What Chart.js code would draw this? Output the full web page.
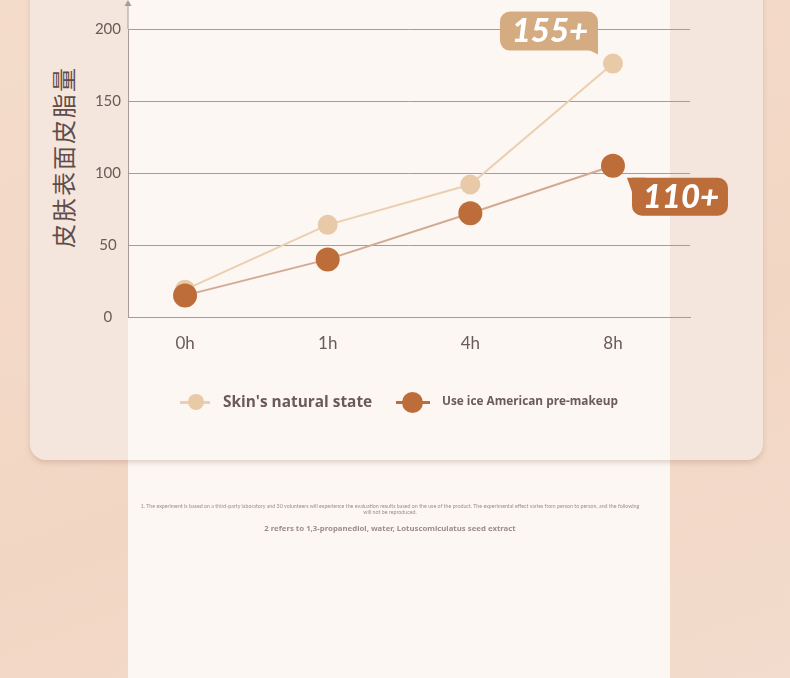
<!DOCTYPE html>
<html lang="zh-CN">
<head>
  <meta charset="UTF-8" />
  <title>皮肤表面皮脂量</title>
  <script src="https://cdn.jsdelivr.net/npm/chart.js"></script>
  <style>
    html, body { margin: 0; padding: 0; }
    body {
      width: 790px; height: 678px; overflow: hidden; position: relative;
      background: linear-gradient(160deg, #f4dccb 0%, #f2d6c4 60%, #f3dccd 100%);
      font-family: Lato, 'Noto Sans', sans-serif;
    }
    .col-bottom {
      position: absolute; left: 128px; top: 440px; width: 542px; height: 238px;
      background: #fcf7f2;
    }
    .card {
      position: absolute; left: 30px; top: -20px; width: 733px; height: 480px;
      background: #f5e6dd; border-radius: 0 0 16px 16px;
      box-shadow: 0 3px 5px rgba(160, 120, 100, 0.28);
      overflow: hidden;
    }
    .card .col {
      position: absolute; left: 98px; top: 0; width: 542px; height: 100%;
      background: #fcf7f2;
    }
    #wrap { position: absolute; left: 0; top: 0; width: 790px; height: 678px; }
    .ytitle {
      position: absolute; left: 62px; top: 157px;
      transform: translate(-50%, -50%) rotate(-90deg);
      white-space: nowrap;
      font-family: 'Noto Sans CJK SC', sans-serif; font-size: 24px;
      letter-spacing: 2px; color: #5f4d4b;
    }
    .legend { position: absolute; top: 390px; height: 24px; }
    .legend .ln { position: absolute; top: 10.5px; height: 3px; }
    .legend .dot { position: absolute; border-radius: 50%; }
    .legend .tx {
      position: absolute; white-space: nowrap; font-weight: bold; color: #6b5a58;
      font-family: 'Open Sans', sans-serif;
    }
    .notes { position: absolute; left: 119px; width: 542px; text-align: center; color: #9d8e89; }
    .n1 { top: 503px; font-size: 5.3px; line-height: 6px; }
    .n2 { top: 523px; font-size: 7.8px; font-weight: bold; font-family: 'Noto Sans', sans-serif; }
  </style>
</head>
<body>
  <div class="col-bottom"></div>
  <div class="card"><div class="col"></div></div>
  <div class="ytitle">皮肤表面皮脂量</div>
  <div id="wrap"><canvas id="oilChart"></canvas></div>

  <div class="legend" style="left:180px">
    <div class="ln" style="left:0;width:30px;background:#ebcfb0"></div>
    <div class="dot" style="left:8px;top:4px;width:16px;height:16px;background:#e8caa8"></div>
    <div class="tx" style="left:43px;top:1px;font-size:15.4px">Skin's natural state</div>
  </div>
  <div class="legend" style="left:396px">
    <div class="ln" style="left:0;width:34px;background:#bd6d39"></div>
    <div class="dot" style="left:6px;top:2px;width:21px;height:21px;background:#bd6d39"></div>
    <div class="tx" style="left:46px;top:2px;font-size:11.8px">Use ice American pre-makeup</div>
  </div>

  <div class="notes n1">1. The experiment is based on a third-party laboratory and 30 volunteers will experience the evaluation results based on the use of the product. The experimental effect varies from person to person, and the following<br>will not be reproduced.</div>
  <div class="notes n2">2 refers to 1,3-propanediol, water, Lotuscomiculatus seed extract</div>

  <script>
    const categories = ["0h", "1h", "4h", "8h"];
    const naturalState = [19, 64, 92, 176];
    const preMakeup = [15, 40, 72, 105];
    const yTicks = [0, 50, 100, 150, 200];
    const calloutLabels = ["155+", "110+"];

    const toPoints = arr => arr.map((v, i) => ({ x: i, y: v }));

    function roundBox(ctx, x, y, w, h, r) {
      ctx.beginPath();
      ctx.roundRect(x, y, w, h, r);
      ctx.fill();
    }

    // axis arrow + the two value bubbles on the 8h points
    const extras = {
      id: "extras",
      afterDraw(chart) {
        const ctx = chart.ctx;
        const ax = chart.chartArea.left;
        ctx.save();
        ctx.strokeStyle = "#a8999a";
        ctx.lineWidth = 1;
        ctx.beginPath();
        ctx.moveTo(ax, chart.chartArea.top);
        ctx.lineTo(ax, 4);
        ctx.stroke();
        ctx.fillStyle = "#a8999a";
        ctx.beginPath();
        ctx.moveTo(ax, 0);
        ctx.lineTo(ax - 3.5, 6);
        ctx.lineTo(ax + 3.5, 6);
        ctx.fill();

        const pa = chart.getDatasetMeta(1).data[3];
        const pb = chart.getDatasetMeta(0).data[3];

        // 155+ bubble, up-left of the pale point
        let bx = pa.x - 15 - 98, by = pa.y - 13 - 39;
        ctx.fillStyle = "#d5ab82";
        roundBox(ctx, bx, by, 98, 39, [10, 10, 0, 10]);
        ctx.beginPath();
        ctx.moveTo(bx + 88, by + 38);
        ctx.lineTo(bx + 98, by + 38);
        ctx.lineTo(bx + 98, by + 43);
        ctx.fill();
        ctx.fillStyle = "#ffffff";
        ctx.font = "italic 900 33px Lato, sans-serif";
        ctx.textAlign = "center";
        ctx.textBaseline = "middle";
        ctx.fillText(calloutLabels[0], bx + 50, by + 20);

        // 110+ bubble, down-right of the dark point
        bx = pb.x + 19; by = pb.y + 12;
        ctx.fillStyle = "#bd6d39";
        roundBox(ctx, bx, by, 96, 38, [0, 10, 10, 10]);
        ctx.beginPath();
        ctx.moveTo(bx - 5, by);
        ctx.lineTo(bx + 14, by);
        ctx.lineTo(bx, by + 14);
        ctx.fill();
        ctx.fillStyle = "#ffffff";
        ctx.fillText(calloutLabels[1], bx + 49, by + 20);
        ctx.restore();
      }
    };

    new Chart(document.getElementById("oilChart"), {
      type: "line",
      data: {
        datasets: [
          {
            label: "Use ice American pre-makeup",
            data: toPoints(preMakeup),
            borderColor: "#d3a996",
            borderWidth: 2,
            pointBackgroundColor: "#bd6d39",
            pointBorderWidth: 0,
            pointRadius: 12,
            order: 0
          },
          {
            label: "Skin's natural state",
            data: toPoints(naturalState),
            borderColor: "#ebcfb0",
            borderWidth: 2,
            pointBackgroundColor: "#e8caa8",
            pointBorderWidth: 0,
            pointRadius: 10,
            order: 1
          }
        ]
      },
      options: {
        responsive: true,
        maintainAspectRatio: false,
        animation: false,
        layout: { padding: { top: 29, right: 100, left: 0, bottom: 0 } },
        plugins: { legend: { display: false }, tooltip: { enabled: false } },
        scales: {
          x: {
            type: "linear",
            min: -0.4,
            max: 3.54,
            afterBuildTicks: s => { s.ticks = categories.map((c, i) => ({ value: i })); },
            afterFit: s => { s.height = 361; },
            grid: { display: false },
            border: { display: true, color: "#a8999a" },
            ticks: {
              padding: 8,
              color: "#6b5a58",
              font: { size: 17, family: "Lato, sans-serif" },
              callback: v => categories[v]
            }
          },
          y: {
            min: 0,
            max: 200,
            afterBuildTicks: s => { s.ticks = yTicks.map(v => ({ value: v })); },
            afterFit: s => { s.width = 128; },
            grid: { color: "#aa9a98", lineWidth: 1, drawTicks: false },
            border: { display: true, color: "#a8999a" },
            ticks: {
              padding: 7,
              crossAlign: "center",
              color: "#6b5a58",
              font: { size: 15, family: "Lato, sans-serif" }
            }
          }
        }
      },
      plugins: [extras]
    });
  </script>
</body>
</html>
